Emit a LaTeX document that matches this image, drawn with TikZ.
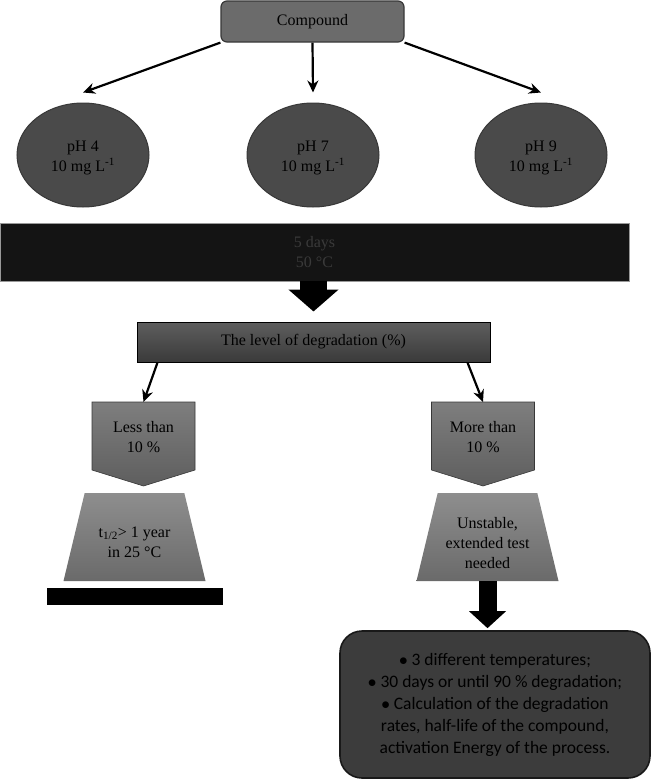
\documentclass[tikz,border=0pt]{standalone}
\usepackage{fontspec}
\setmainfont{Liberation Serif}
\newfontfamily\resultfont{Carlito}
\usetikzlibrary{arrows.meta,calc,shapes.geometric}

\definecolor{edgeGray}{HTML}{383838}
\definecolor{compGray}{HTML}{6B6B6B}
\definecolor{phGray}{HTML}{4A4A4A}
\definecolor{bandBlack}{HTML}{141414}
\definecolor{bandText}{HTML}{3A3A3A}
\definecolor{levelTop}{HTML}{5E5E5E}
\definecolor{levelBot}{HTML}{3A3A3A}
\definecolor{pentTop}{HTML}{7E7E7E}
\definecolor{pentBot}{HTML}{5E5E5E}
\definecolor{trapTop}{HTML}{8E8E8E}
\definecolor{trapBot}{HTML}{6A6A6A}
\definecolor{resultGray}{HTML}{3C3C3C}

\begin{document}
\begin{tikzpicture}[x=1pt, y=-1pt,
  every node/.style={font=\fontsize{16}{20}\selectfont, align=center, text=black, inner sep=0pt},
  comp/.style={draw=edgeGray, line width=1.2pt, fill=compGray, rounded corners=6pt,
    minimum width=183pt, minimum height=41pt},
  phnode/.style={ellipse, draw=edgeGray, line width=1pt, fill=phGray,
    minimum width=132pt, minimum height=104pt},
  band/.style={draw=black!40, line width=0.5pt, fill=bandBlack, text=bandText,
    minimum width=629pt, minimum height=58pt},
  levelbox/.style={draw=black, line width=1pt, top color=levelTop, bottom color=levelBot,
    minimum width=353pt, minimum height=40pt},
  pentshape/.style={draw=edgeGray, line width=0.6pt, top color=pentTop, bottom color=pentBot},
  trap/.style={trapezium, trapezium left angle=78, trapezium right angle=78,
    trapezium stretches=true, top color=trapTop, bottom color=trapBot, inner sep=2pt,
    minimum width=142pt, minimum height=88pt},
  basebar/.style={fill=black, minimum width=176pt, minimum height=17pt},
  result/.style={draw=black!90, line width=1.6pt, fill=resultGray, rounded corners=22pt,
    minimum width=310pt, minimum height=147pt,
    font=\resultfont\fontsize{17.5}{22}\selectfont},
  thinarrow/.style={line width=2.2pt, -{Stealth[length=12pt, width=11pt]}},
  blockarrow/.style={line width=27pt, -{Triangle[length=22pt, width=49pt]}},
  smallblock/.style={line width=18pt, -{Triangle[length=17pt, width=36pt]}}
]

\def\pentW{103}
\def\pentH{68}
\def\pentTip{16}

\useasboundingbox (0,0) rectangle (651,779);

% top row
\node[comp] (comp) at (312.5,21.5) {Compound};

\node[phnode] (ph4) at (83,155) {};
\node[phnode] (ph7) at (313,155) {};
\node[phnode] (ph9) at (541,155) {};
\node (ph4text) at ([yshift=-3pt]ph4.center) {pH 4\\10 mg L\textsuperscript{-1}};
\node (ph7text) at ([yshift=-3pt]ph7.center) {pH 7\\10 mg L\textsuperscript{-1}};
\node (ph9text) at ([yshift=-3pt]ph9.center) {pH 9\\10 mg L\textsuperscript{-1}};

\draw[thinarrow] (comp.south west) -- ([yshift=10pt]ph4.north);
\draw[thinarrow] (comp.south) -- ([yshift=10pt]ph7.north);
\draw[thinarrow] (comp.south east) -- ([yshift=10pt]ph9.north);

% conditions
\node[band] (band) at (314.5,252) {5 days\\50 \textdegree C};
\node[levelbox] (level) at (313.5,342) {The level of degradation (\%)};

\draw[blockarrow, shorten >=10pt] (band.south -| level.north) -- (level.north);

% two branches (pentagon arrows)
\coordinate (lesstop) at (143.5,402);
\coordinate (moretop) at (483,402);
\foreach \c in {lesstop,moretop}
  \path[pentshape] (\c) ++(-\pentW/2,0) -- ++(\pentW,0) -- ++(0,\pentH)
    -- ++(-\pentW/2,\pentTip) -- ++(-\pentW/2,-\pentTip) -- cycle;
\node (less) at ([yshift=-35pt]lesstop) {Less than\\10 \%};
\node (more) at ([yshift=-35pt]moretop) {More than\\10 \%};

\draw[thinarrow] ([xshift=21pt]level.south west) -- (lesstop);
\draw[thinarrow] ([xshift=-23pt]level.south east) -- (moretop);

\node[trap] (stable) at (134.5,537) {};
\node[trap] (unstable) at (487.5,537) {};
\node (stabletext) at ([yshift=-5pt]stable.center) {t\textsubscript{1/2}> 1 year\\in 25 \textdegree C};
\node (unstabletext) at ([yshift=-6pt]unstable.center) {Unstable,\\extended test\\needed};
\node[basebar] (base) at (135,596.5) {};

\node[result] (result) at (495,704.5)
  {$\bullet$ 3 different temperatures;\\
   $\bullet$ 30 days or until 90 \% degradation;\\
   $\bullet$ Calculation of the degradation\\
   rates, half-life of the compound,\\
   activation Energy of the process.};

\draw[smallblock, shorten >=2pt] (unstable.south) -- (unstable.south |- result.north);

\end{tikzpicture}
\end{document}
